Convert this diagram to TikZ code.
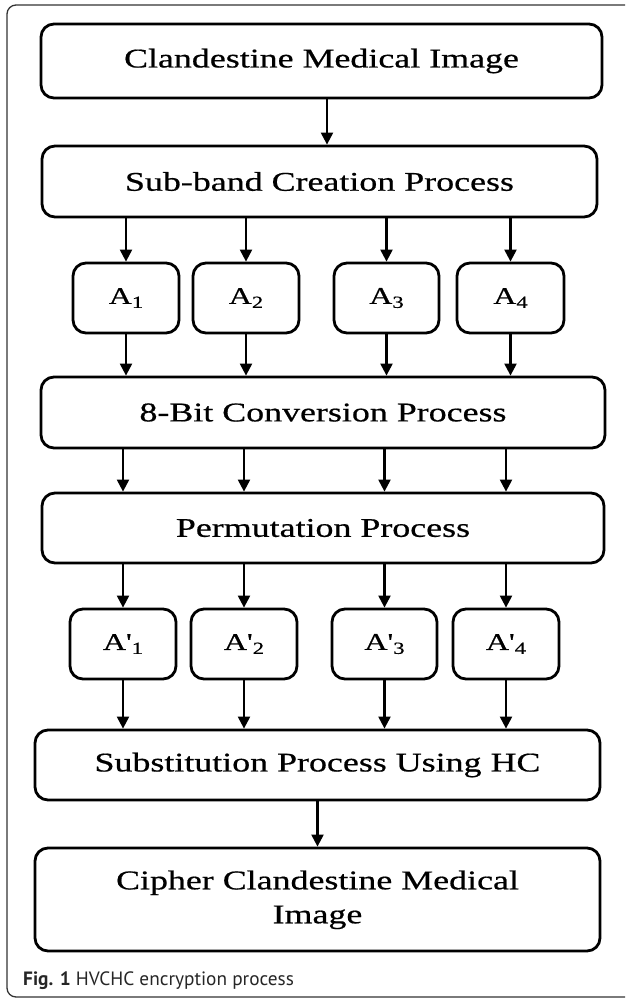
\documentclass[tikz,border=0pt]{standalone}
\usepackage{fontspec}
\setmainfont{Liberation Serif}[FakeStretch=1.33, FakeBold=0.6]
\newfontfamily\qfont{Liberation Serif}[FakeStretch=1.33, FakeBold=0.6]
\newfontfamily\capfont{PT Sans}
\usetikzlibrary{arrows.meta}
\newcommand\subd[1]{\raisebox{-4pt}{\fontsize{17}{18}\selectfont #1}}
\newcommand\apos{{\qfont\char"0027}}
\begin{document}
\begin{tikzpicture}[x=1pt,y=-1pt,
  proc/.style={draw, line width=2.8pt, rounded corners=13pt, inner sep=0pt,
    font=\fontsize{27}{34}\selectfont, align=center},
  sm/.style={proc, minimum height=70pt, font=\fontsize{24}{28}\selectfont},
  arr/.style={line width=2.2pt, -{Triangle[width=12pt,length=12pt]}},
  frame/.style={draw=black!80, line width=1.3pt, rounded corners=9pt}
]
\useasboundingbox (0,0) rectangle (625,999);
\begin{scope}
\clip (0,0) rectangle (625,999);
\draw[frame] (7,5) rectangle (634,997);
\end{scope}

\node[proc, minimum width=561pt, minimum height=74pt] (b1) at (321.5,61) {\raisebox{3pt}{Clandestine Medical Image}};
\node[proc, minimum width=555pt, minimum height=71pt] (b2) at (319.5,181.5) {Sub-band Creation Process};

\node[sm, minimum width=106pt] (a1) at (126,298) {A\subd{1}};
\node[sm, minimum width=106pt] (a2) at (246,298) {A\subd{2}};
\node[sm, minimum width=105pt] (a3) at (386.5,298) {A\subd{3}};
\node[sm, minimum width=107pt] (a4) at (510.5,298) {A\subd{4}};

\node[proc, minimum width=564pt, minimum height=71pt] (b3) at (323,412.5) {8-Bit Conversion Process};
\node[proc, minimum width=562pt, minimum height=70pt] (b4) at (323,528) {Permutation Process};

\node[sm, minimum width=106pt] (p1) at (123,644) {A\apos\subd{1}};
\node[sm, minimum width=106pt] (p2) at (244,644) {A\apos\subd{2}};
\node[sm, minimum width=105pt] (p3) at (384.5,644) {A\apos\subd{3}};
\node[sm, minimum width=106pt] (p4) at (506,644) {A\apos\subd{4}};

\node[proc, minimum width=565pt, minimum height=70pt] (b5) at (317.5,765) {Substitution Process Using HC};
\node[proc, minimum width=565pt, minimum height=103pt] (b6) at (317.5,899.5)
  {\raisebox{-6pt}{\begin{tabular}{@{}c@{}}Cipher Clandestine Medical\\Image\end{tabular}}};

\node[anchor=base west, inner sep=0pt, font=\capfont\fontsize{19.3}{23}\selectfont, text=black!85] (cap) at (23,985) {\textbf{Fig. 1} HVCHC encryption process};

\draw[arr] ([xshift=5.5pt]b1.south) -- ([xshift=5.5pt]b1.south |- b2.north);
\foreach \n in {a1,a2,a3,a4}{
  \draw[arr] (\n.north |- b2.south) -- (\n.north);
  \draw[arr] (\n.south) -- (\n.south |- b3.north);
}
\foreach \n in {p1,p2,p3,p4}{
  \draw[arr] (\n.north |- b3.south) -- (\n.north |- b4.north);
  \draw[arr] (\n.north |- b4.south) -- (\n.north);
  \draw[arr] (\n.south) -- (\n.south |- b5.north);
}
\draw[arr] (b5.south) -- (b6.north);
\end{tikzpicture}
\end{document}
